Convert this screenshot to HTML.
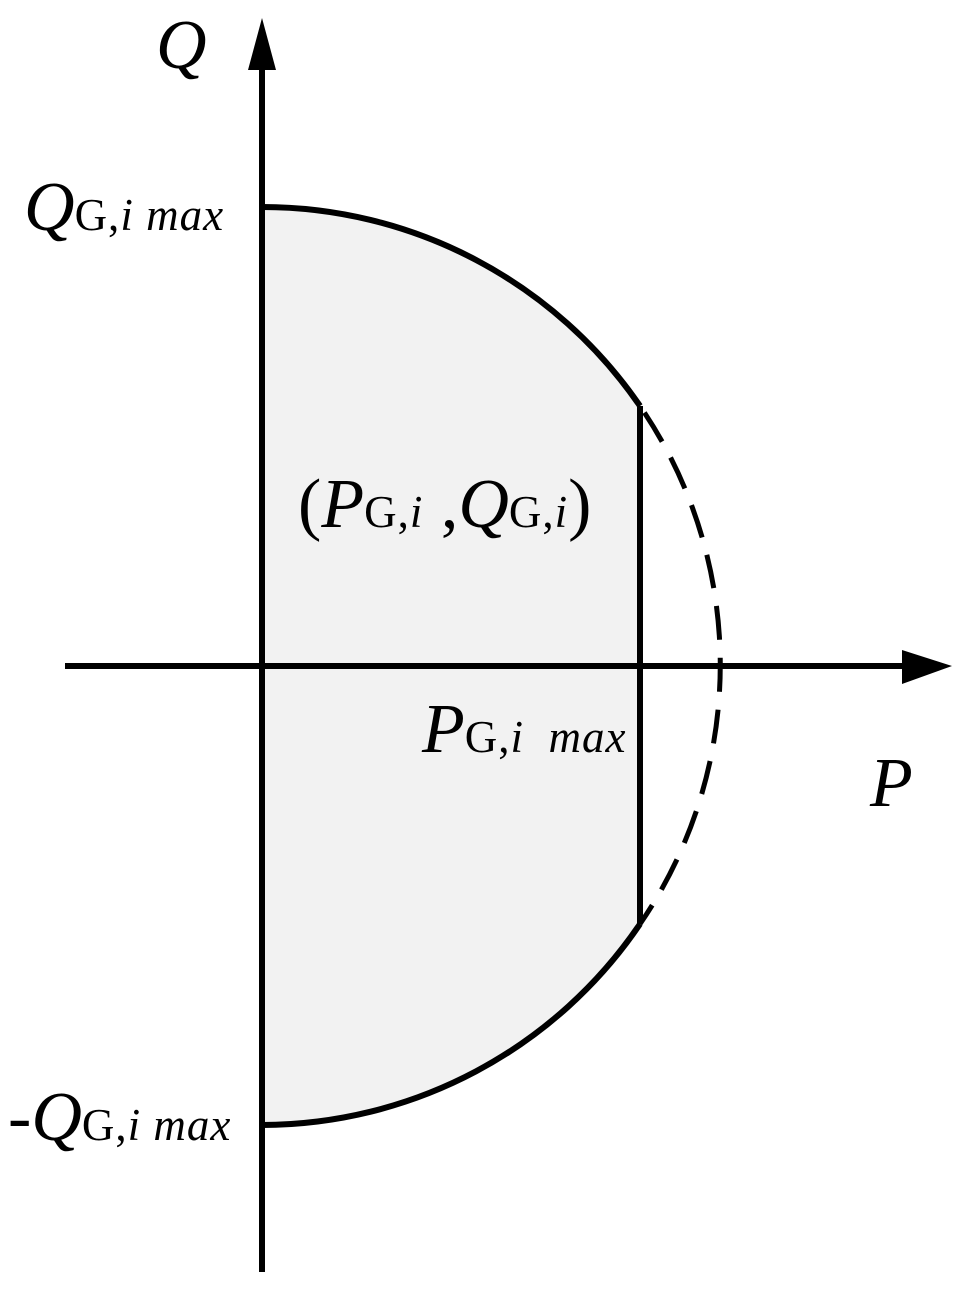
<!DOCTYPE html>
<html><head><meta charset="utf-8"><style>html,body{margin:0;padding:0;background:#fff}svg{display:block}</style></head>
<body>
<svg width="960" height="1293" viewBox="0 0 960 1293" xmlns="http://www.w3.org/2000/svg" font-family="Liberation Serif, serif">
<path d="M262,207 A458,458 0 0 1 640,406 L640,924 A458,458 0 0 1 262,1125 Z" fill="#f2f2f2" stroke="none"/>
<path d="M262,207 A458,458 0 0 1 640,406" fill="none" stroke="#000" stroke-width="6"/>
<path d="M640,924 A458,458 0 0 1 262,1125" fill="none" stroke="#000" stroke-width="6"/>
<line x1="640" y1="406" x2="640" y2="924" stroke="#000" stroke-width="6"/>
<path d="M640,406 A458,458 0 0 1 640,924" fill="none" stroke="#000" stroke-width="5" stroke-dasharray="34,18" stroke-dashoffset="-8"/>
<line x1="262" y1="60" x2="262" y2="1272" stroke="#000" stroke-width="6"/>
<polygon points="262,18 248,70 276,70" fill="#000"/>
<line x1="65" y1="666" x2="910" y2="666" stroke="#000" stroke-width="6"/>
<polygon points="952,666 902,650 902,684" fill="#000"/>
<text x="156" y="68" font-size="70" font-style="italic">Q</text>
<text x="24" y="230" font-size="70"><tspan font-style="italic">Q</tspan><tspan font-size="45" letter-spacing="1">G,<tspan font-style="italic">i&#160;max</tspan></tspan></text>
<text x="8" y="1140" font-size="70">-<tspan font-style="italic">Q</tspan><tspan font-size="45" letter-spacing="1">G,<tspan font-style="italic">i&#160;max</tspan></tspan></text>
<text x="298" y="527" font-size="70">(<tspan font-style="italic">P</tspan><tspan font-size="45" letter-spacing="1">G,<tspan font-style="italic">i</tspan></tspan>&#160;,<tspan font-style="italic">Q</tspan><tspan font-size="45" letter-spacing="1">G,<tspan font-style="italic">i</tspan></tspan>)</text>
<text x="422" y="752" font-size="70"><tspan font-style="italic">P</tspan><tspan font-size="45" letter-spacing="1">G,<tspan font-style="italic">i&#160;&#160;max</tspan></tspan></text>
<text x="870" y="806" font-size="70" font-style="italic">P</text>
</svg>
</body></html>
